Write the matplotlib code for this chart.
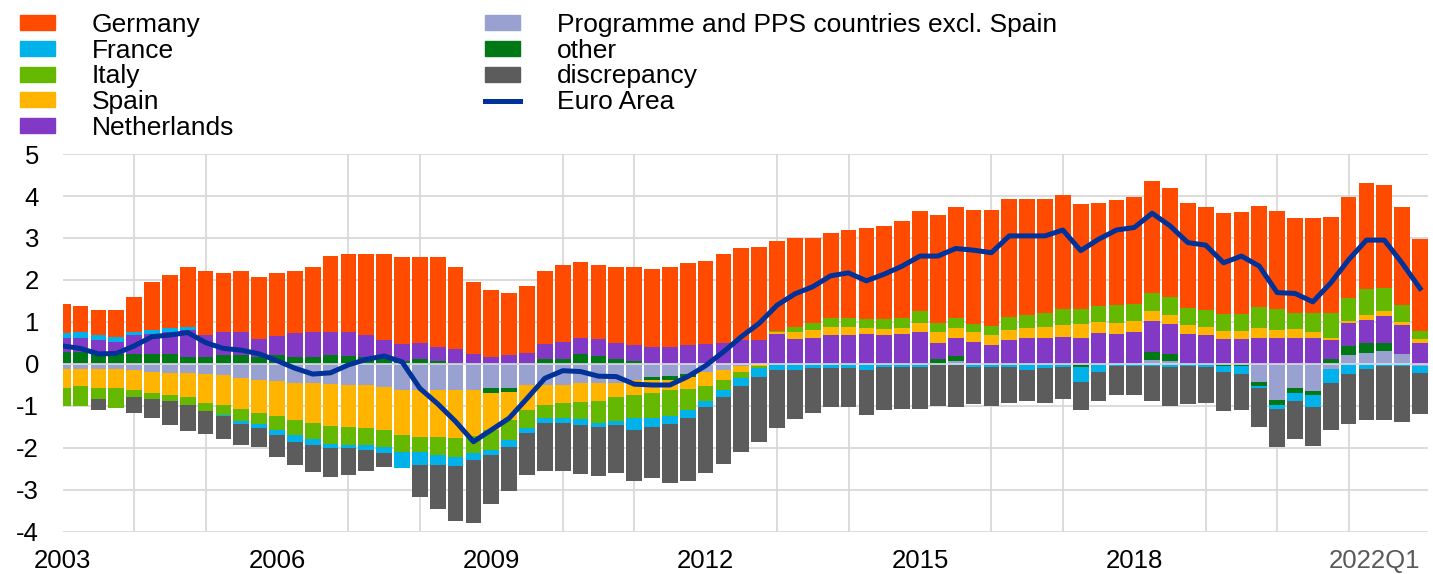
import numpy as np
import matplotlib.pyplot as plt
from matplotlib.patches import Patch
from matplotlib.lines import Line2D

plt.rcParams['font.family'] = ['Liberation Sans', 'DejaVu Sans']
plt.rcParams['axes.unicode_minus'] = False

# quarterly contributions, 2003Q1 - 2022Q1 (percentage points)
germany = [0.70, 0.62, 0.60, 0.64, 0.83, 1.15, 1.26, 1.41, 1.53, 1.42,
           1.47, 1.49, 1.50, 1.49, 1.57, 1.80, 1.88, 1.94, 2.06, 2.06,
           2.03, 2.13, 1.95, 1.72, 1.59, 1.47, 1.59, 1.74, 1.83, 1.83,
           1.77, 1.79, 1.85, 1.84, 1.91, 1.95, 1.98, 2.11, 2.18, 2.22,
           2.16, 2.10, 2.01, 2.02, 2.10, 2.17, 2.23, 2.32, 2.40, 2.58,
           2.64, 2.72, 2.77, 2.81, 2.77, 2.72, 2.72, 2.51, 2.47, 2.50,
           2.55, 2.68, 2.59, 2.50, 2.44, 2.40, 2.44, 2.41, 2.35, 2.25,
           2.25, 2.30, 2.42, 2.52, 2.46, 2.35, 2.18]
france = [0.12, 0.12, 0.13, 0.12, 0.08, 0.10, 0.08, 0.08, 0.0, -0.04,
          -0.08, -0.10, -0.12, -0.16, -0.14, -0.10, -0.07, -0.12, -0.16, -0.39,
          -0.31, -0.23, -0.22, -0.16, -0.12, -0.16, -0.12, -0.12, -0.11, -0.13,
          -0.10, -0.10, -0.27, -0.20, -0.18, -0.19, -0.15, -0.16, -0.18, -0.20,
          -0.15, -0.14, -0.10, -0.10, -0.10, -0.14, -0.08, -0.08, -0.08, -0.03,
          -0.03, -0.06, -0.06, -0.06, -0.14, -0.10, -0.08, -0.34, -0.18, -0.05,
          -0.05, -0.05, -0.06, -0.05, -0.06, -0.15, -0.19, -0.06, -0.08, -0.19,
          -0.28, -0.34, -0.25, -0.12, -0.05, -0.05, -0.18]
italy = [-0.44, -0.48, -0.26, -0.48, -0.17, -0.16, -0.13, -0.20, -0.19, -0.23,
         -0.27, -0.27, -0.32, -0.36, -0.38, -0.42, -0.42, -0.40, -0.40, -0.40,
         -0.36, -0.42, -0.44, -0.42, -0.49, -0.48, -0.43, -0.31, -0.35, -0.42,
         -0.54, -0.57, -0.55, -0.61, -0.62, -0.50, -0.35, -0.24, -0.16, -0.05,
         0.03, 0.12, 0.17, 0.20, 0.20, 0.21, 0.23, 0.24, 0.28, 0.20,
         0.24, 0.20, 0.21, 0.32, 0.32, 0.35, 0.37, 0.35, 0.36, 0.42,
         0.40, 0.41, 0.42, 0.40, 0.40, 0.40, 0.40, 0.50, 0.49, 0.39,
         0.45, 0.60, 0.53, 0.61, 0.55, 0.39, 0.20]
spain = [-0.44, -0.41, -0.44, -0.44, -0.48, -0.50, -0.52, -0.56, -0.70, -0.72,
         -0.74, -0.79, -0.85, -0.87, -0.95, -1.00, -1.01, -1.03, -1.03, -1.07,
         -1.11, -1.13, -1.15, -1.09, -0.88, -0.67, -0.60, -0.48, -0.44, -0.44,
         -0.41, -0.32, -0.36, -0.30, -0.26, -0.28, -0.34, -0.24, -0.13, -0.05,
         0.04, 0.18, 0.20, 0.20, 0.20, 0.14, 0.14, 0.14, 0.20, 0.26,
         0.24, 0.22, 0.24, 0.25, 0.24, 0.26, 0.28, 0.34, 0.28, 0.27,
         0.28, 0.24, 0.22, 0.22, 0.20, 0.20, 0.20, 0.22, 0.20, 0.20,
         0.16, 0.05, 0.06, 0.12, 0.11, 0.08, 0.08]
netherlands = [0.32, 0.34, 0.31, 0.29, 0.45, 0.47, 0.53, 0.64, 0.53, 0.54,
               0.54, 0.42, 0.46, 0.56, 0.58, 0.56, 0.56, 0.52, 0.44, 0.40,
               0.40, 0.33, 0.32, 0.24, 0.16, 0.21, 0.24, 0.37, 0.40, 0.37,
               0.40, 0.40, 0.39, 0.41, 0.41, 0.45, 0.48, 0.51, 0.57, 0.57,
               0.71, 0.59, 0.61, 0.69, 0.69, 0.71, 0.69, 0.71, 0.77, 0.38,
               0.41, 0.53, 0.45, 0.56, 0.61, 0.61, 0.65, 0.61, 0.73, 0.71,
               0.75, 0.74, 0.71, 0.71, 0.69, 0.59, 0.59, 0.63, 0.61, 0.63,
               0.61, 0.45, 0.54, 0.56, 0.63, 0.69, 0.51]
programme = [-0.12, -0.12, -0.13, -0.13, -0.14, -0.18, -0.22, -0.22, -0.24, -0.26,
             -0.34, -0.37, -0.40, -0.46, -0.46, -0.48, -0.50, -0.50, -0.54, -0.62,
             -0.62, -0.62, -0.62, -0.62, -0.58, -0.56, -0.50, -0.50, -0.50, -0.46,
             -0.46, -0.46, -0.38, -0.30, -0.29, -0.24, -0.18, -0.14, -0.05, 0.0,
             0.0, 0.0, 0.0, 0.0, 0.0, 0.0, 0.0, 0.0, 0.0, 0.0,
             0.08, 0.0, 0.0, 0.0, 0.0, 0.0, 0.0, 0.0, 0.0, 0.0,
             0.0, 0.10, 0.08, 0.0, 0.0, 0.0, 0.0, -0.42, -0.86, -0.58,
             -0.64, -0.12, 0.22, 0.25, 0.30, 0.24, -0.04]
other = [0.29, 0.29, 0.25, 0.24, 0.24, 0.24, 0.24, 0.17, 0.16, 0.21,
         0.21, 0.17, 0.21, 0.17, 0.17, 0.21, 0.19, 0.17, 0.13, 0.08,
         0.11, 0.08, 0.03, 0.0, -0.10, -0.10, 0.02, 0.11, 0.13, 0.24,
         0.19, 0.11, 0.06, -0.08, -0.08, -0.08, 0.0, 0.0, 0.0, 0.0,
         0.0, 0.0, 0.0, 0.0, 0.0, 0.0, 0.0, 0.0, 0.0, 0.13,
         0.12, 0.0, 0.0, 0.0, 0.0, 0.0, 0.0, -0.08, 0.0, 0.0,
         0.0, 0.19, 0.16, 0.0, 0.0, -0.05, -0.05, -0.10, -0.12, -0.10,
         -0.10, 0.11, 0.21, 0.24, 0.21, 0.0, 0.0]
discrepancy = [0.0, 0.0, -0.27, 0.0, -0.38, -0.45, -0.58, -0.61, -0.54, -0.53,
               -0.50, -0.45, -0.52, -0.55, -0.63, -0.70, -0.64, -0.49, -0.33, 0.0,
               -0.77, -1.06, -1.30, -1.50, -1.16, -1.05, -0.99, -1.13, -1.14, -1.17,
               -1.16, -1.14, -1.22, -1.23, -1.41, -1.49, -1.58, -1.59, -1.57, -1.55,
               -1.38, -1.18, -1.07, -0.93, -0.93, -1.07, -1.02, -1.00, -0.98, -0.97,
               -0.99, -0.89, -0.94, -0.86, -0.73, -0.82, -0.76, -0.68, -0.69, -0.69,
               -0.69, -0.82, -0.94, -0.90, -0.86, -0.93, -0.86, -0.91, -0.92, -0.92,
               -0.93, -1.11, -1.18, -1.21, -1.28, -1.32, -0.97]
euro_area = [0.43, 0.37, 0.24, 0.25, 0.43, 0.65, 0.69, 0.75, 0.51, 0.37,
             0.33, 0.24, 0.08, -0.10, -0.24, -0.21, -0.02, 0.11, 0.19, 0.05,
             -0.58, -0.95, -1.37, -1.85, -1.57, -1.29, -0.82, -0.34, -0.16, -0.18,
             -0.29, -0.30, -0.48, -0.50, -0.50, -0.30, -0.04, 0.29, 0.65, 0.97,
             1.40, 1.67, 1.84, 2.10, 2.17, 1.98, 2.14, 2.33, 2.57, 2.57,
             2.75, 2.71, 2.65, 3.05, 3.05, 3.05, 3.19, 2.70, 2.97, 3.19,
             3.25, 3.59, 3.29, 2.89, 2.83, 2.41, 2.57, 2.33, 1.70, 1.68,
             1.48, 1.93, 2.48, 2.95, 2.95, 2.40, 1.80]

tick_pos = [0, 12, 24, 36, 48, 60, 76]
tick_labels = ['2003', '2006', '2009', '2012', '2015', '2018', '2022Q1']

colors = {
    'Germany': '#ff4b00', 'France': '#00b1ea', 'Italy': '#65b800',
    'Spain': '#ffb400', 'Netherlands': '#8139c6',
    'Programme and PPS countries excl. Spain': '#98a1d0',
    'other': '#007816', 'discrepancy': '#5c5c5c',
}
# stacking order, from the zero line outwards
stack = [('Programme and PPS countries excl. Spain', programme), ('other', other),
         ('Netherlands', netherlands), ('Spain', spain), ('Italy', italy),
         ('France', france), ('Germany', germany), ('discrepancy', discrepancy)]

n = len(germany)
x = np.arange(n)

fig = plt.figure(figsize=(14.33, 5.74), dpi=100)
ax = fig.add_axes([0.04375, 0.0732, 0.9528, 0.6585])

pos = np.zeros(n)
neg = np.zeros(n)
for name, vals in stack:
    v = np.array(vals)
    base = np.where(v >= 0, pos, neg)
    ax.bar(x, v, 0.88, bottom=base, color=colors[name], linewidth=0, zorder=2)
    pos += np.clip(v, 0, None)
    neg += np.clip(v, None, 0)

ax.axhline(0, color='#dcdce6', lw=1.2, zorder=3)
ax.plot(x, euro_area, color='#003299', lw=3.6, zorder=4)

ax.set_xlim(0, 76.45)
ax.set_ylim(-4, 5)
ax.set_yticks(range(-4, 6))
ax.set_xticks(tick_pos)
ax.set_xticklabels(tick_labels)
ax.set_xticks(range(0, 77, 4), minor=True)
ax.grid(axis='y', color='#d9d9d9', lw=1.3, zorder=0)
ax.grid(axis='x', which='minor', color='#d9d9d9', lw=1.3, zorder=0)
ax.set_axisbelow(True)
for s in ax.spines.values():
    s.set_visible(False)
ax.tick_params(axis='both', which='both', length=0, labelsize=18.5)
ax.tick_params(axis='y', pad=17)
ax.tick_params(axis='x', pad=12)
last = ax.get_xticklabels()[-1]
last.set_horizontalalignment('right')
last.set_color('#595959')

col1 = ['Germany', 'France', 'Italy', 'Spain', 'Netherlands']
col2 = ['Programme and PPS countries excl. Spain', 'other', 'discrepancy']
h1 = [Patch(color=colors[c]) for c in col1]
h2 = [Patch(color=colors[c]) for c in col2] + [Line2D([], [], color='#003299', lw=3.6)]
kw = dict(frameon=False, fontsize=19, handlelength=1.33, handleheight=0.5,
          handletextpad=1.38, labelspacing=0.072, borderaxespad=0, borderpad=0)
fig.legend(h1, col1, loc='upper left', bbox_to_anchor=(0.014, 0.978), **kw)
fig.legend(h2, col2 + ['Euro Area'], loc='upper left', bbox_to_anchor=(0.3385, 0.978), **kw)

fig.savefig('out.png', dpi=100)
